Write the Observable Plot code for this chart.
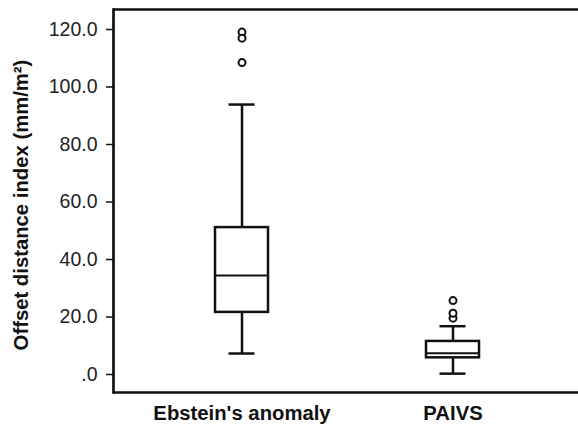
<!DOCTYPE html>
<html><head>
<meta charset="utf-8">
<script src="https://cdn.jsdelivr.net/npm/d3@7"></script>
<script src="https://cdn.jsdelivr.net/npm/@observablehq/plot@0.6"></script>
<style>body{margin:0;background:#fff;overflow:hidden} #chart svg{font-family:"Liberation Sans",Arial,sans-serif}</style>
</head><body><div id="chart"></div>
<script>
const groups = ["Ebstein's anomaly", "PAIVS"];
const lowerWhisker = [7.3, 0.3];
const q1 = [21.6, 5.8];
const median = [34.4, 7.4];
const q3 = [51.1, 11.5];
const upperWhisker = [93.9, 16.8];
const outlierGroup = ["Ebstein's anomaly", "Ebstein's anomaly", "Ebstein's anomaly", "PAIVS", "PAIVS", "PAIVS"];
const outlierValue = [119.1, 117.0, 108.5, 19.6, 21.3, 25.7];
const yTicks = [0, 20, 40, 60, 80, 100, 120];
const yLabel = "Offset distance index (mm/m²)";

const stats = groups.map((g, i) => ({group: g, lo: lowerWhisker[i], q1: q1[i], med: median[i], q3: q3[i], hi: upperWhisker[i]}));
const outliers = outlierGroup.map((g, i) => ({group: g, value: outlierValue[i]}));

const ink = "#111";
const sw = 2.5;
const chart = Plot.plot({
  width: 578,
  height: 424,
  marginLeft: 113,
  marginRight: 0,
  marginTop: 9,
  marginBottom: 32,
  x: {type: "band", domain: groups, range: [113, 581], paddingInner: 0.75, paddingOuter: 0.479},
  y: {domain: [-6.26, 126.96]},
  marks: [
    Plot.ruleX(stats, {x: "group", y1: "q3", y2: "hi", stroke: ink, strokeWidth: sw}),
    Plot.ruleX(stats, {x: "group", y1: "lo", y2: "q1", stroke: ink, strokeWidth: sw}),
    Plot.tickY(stats, {x: "group", y: "hi", stroke: ink, strokeWidth: sw, insetLeft: 13.5, insetRight: 13.5}),
    Plot.tickY(stats, {x: "group", y: "lo", stroke: ink, strokeWidth: sw, insetLeft: 13.5, insetRight: 13.5}),
    Plot.barY(stats, {x: "group", y1: "q1", y2: "q3", fill: "white", stroke: ink, strokeWidth: sw}),
    Plot.tickY(stats, {x: "group", y: "med", stroke: ink, strokeWidth: 2}),
    Plot.dot(outliers, {x: "group", y: "value", r: 3.5, stroke: ink, strokeWidth: 2, fill: "white"}),
    Plot.frame({anchor: "left", stroke: ink, strokeWidth: 2.7}),
    Plot.ruleY([126.96, -6.26], {stroke: ink, strokeWidth: 2.7}),
    Plot.axisY({ticks: yTicks, tickFormat: d => d === 0 ? ".0" : d.toFixed(1), tickSize: 7, tickPadding: 9, fontSize: 19.5, label: null, stroke: ink, strokeWidth: 1.5, fill: "#222"}),
    Plot.axisX({tickSize: 0, tickPadding: 13, fontSize: 20.3, fontWeight: "bold", label: null, fill: "#111"}),
    Plot.text([yLabel], {frameAnchor: "left", rotate: -90, dx: -92, dy: 4, fontSize: 20.3, fontWeight: "bold", fill: "#111", textAnchor: "middle", lineAnchor: "middle"})
  ]
});
document.getElementById("chart").appendChild(chart);
</script>
</body></html>
